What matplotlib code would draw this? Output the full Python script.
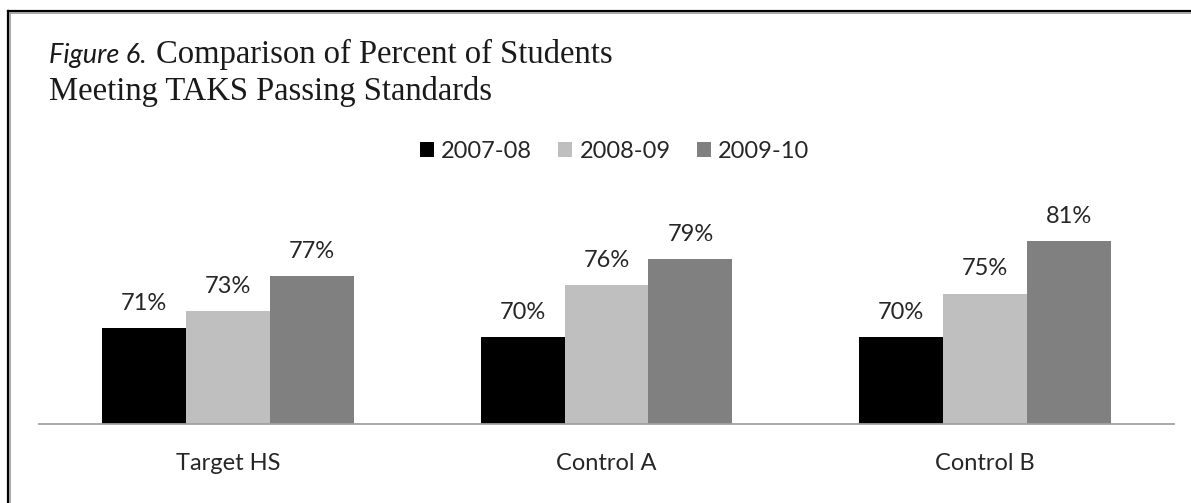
import numpy as np
import matplotlib.pyplot as plt
from matplotlib.patches import Patch
from matplotlib.lines import Line2D

categories = ['Target HS', 'Control A', 'Control B']
years = ['2007-08', '2008-09', '2009-10']
pct_0708 = [71, 70, 70]
pct_0809 = [73, 76, 75]
pct_0910 = [77, 79, 81]
series = [pct_0708, pct_0809, pct_0910]
colors = ['#000000', '#BFBFBF', '#808080']

W, H = 1191, 503
fig = plt.figure(figsize=(W / 100, H / 100), dpi=100)
fig.patch.set_facecolor('white')

# plot area in pixels: x 39..1174, baseline at y=424
ax = fig.add_axes([39 / W, 1 - 424 / H, 1135 / W, 261 / H])
x = np.arange(len(categories))
bw = 0.222
for i, (vals, col) in enumerate(zip(series, colors)):
    pos = x + (i - 1) * bw
    ax.bar(pos, vals, width=bw, color=col, edgecolor='none', zorder=2)
    for px, v in zip(pos, vals):
        ax.annotate(f'{v}%', (px, v), xytext=(0, 13), textcoords='offset points',
                    ha='center', va='baseline', fontsize=17, family='Lato',
                    color='#262626')

ax.set_xlim(-0.5, 2.5)
ax.set_ylim(60, 90)
ax.set_yticks([])
for s in ['top', 'right', 'left']:
    ax.spines[s].set_visible(False)
ax.spines['bottom'].set_color('#A0A0A0')
ax.spines['bottom'].set_linewidth(1.3)
ax.set_xticks(x)
ax.set_xticklabels(categories, fontsize=17, family='Lato', color='#262626')
ax.tick_params(axis='x', length=0, pad=21)

# legend
handles = [Patch(facecolor=c, edgecolor='none') for c in colors]
fig.legend(handles, years, loc='center left', bbox_to_anchor=(420 / W, 1 - 151 / H),
           ncol=3, frameon=False, prop={'family': 'Lato', 'size': 17},
           handlelength=0.6, handleheight=0.6, handletextpad=0.3,
           columnspacing=1.1, borderpad=0, borderaxespad=0, labelcolor='#262626')

# title: italic sans label + serif text
t1 = fig.text(49 / W, 1 - 63 / H, 'Figure 6.', fontsize=19.5, family='Lato',
              style='italic', va='baseline', color='#1a1a1a')
fig.canvas.draw()
bb = t1.get_window_extent()
fig.text((bb.x1 + 9) / W, 1 - 63 / H, 'Comparison of Percent of Students',
         fontsize=23.5, family='Liberation Serif', va='baseline', color='#1a1a1a')
fig.text(49 / W, 1 - 100 / H, 'Meeting TAKS Passing Standards',
         fontsize=23.5, family='Liberation Serif', va='baseline', color='#1a1a1a')

# frame border (top and left)
def px_line(xs, ys, color, lw):
    fig.add_artist(Line2D([v / W for v in xs], [1 - v / H for v in ys],
                          color=color, linewidth=lw, transform=fig.transFigure))

px_line([7.5, W], [10.5, 10.5], '#000000', 1.6)
px_line([7.5, 7.5], [10.5, H], '#000000', 1.6)
px_line([10, W], [12.5, 12.5], '#9A9A9A', 1.2)
px_line([10, 10], [12.5, H], '#9A9A9A', 1.2)

fig.savefig('out.png', dpi=100, facecolor='white')
